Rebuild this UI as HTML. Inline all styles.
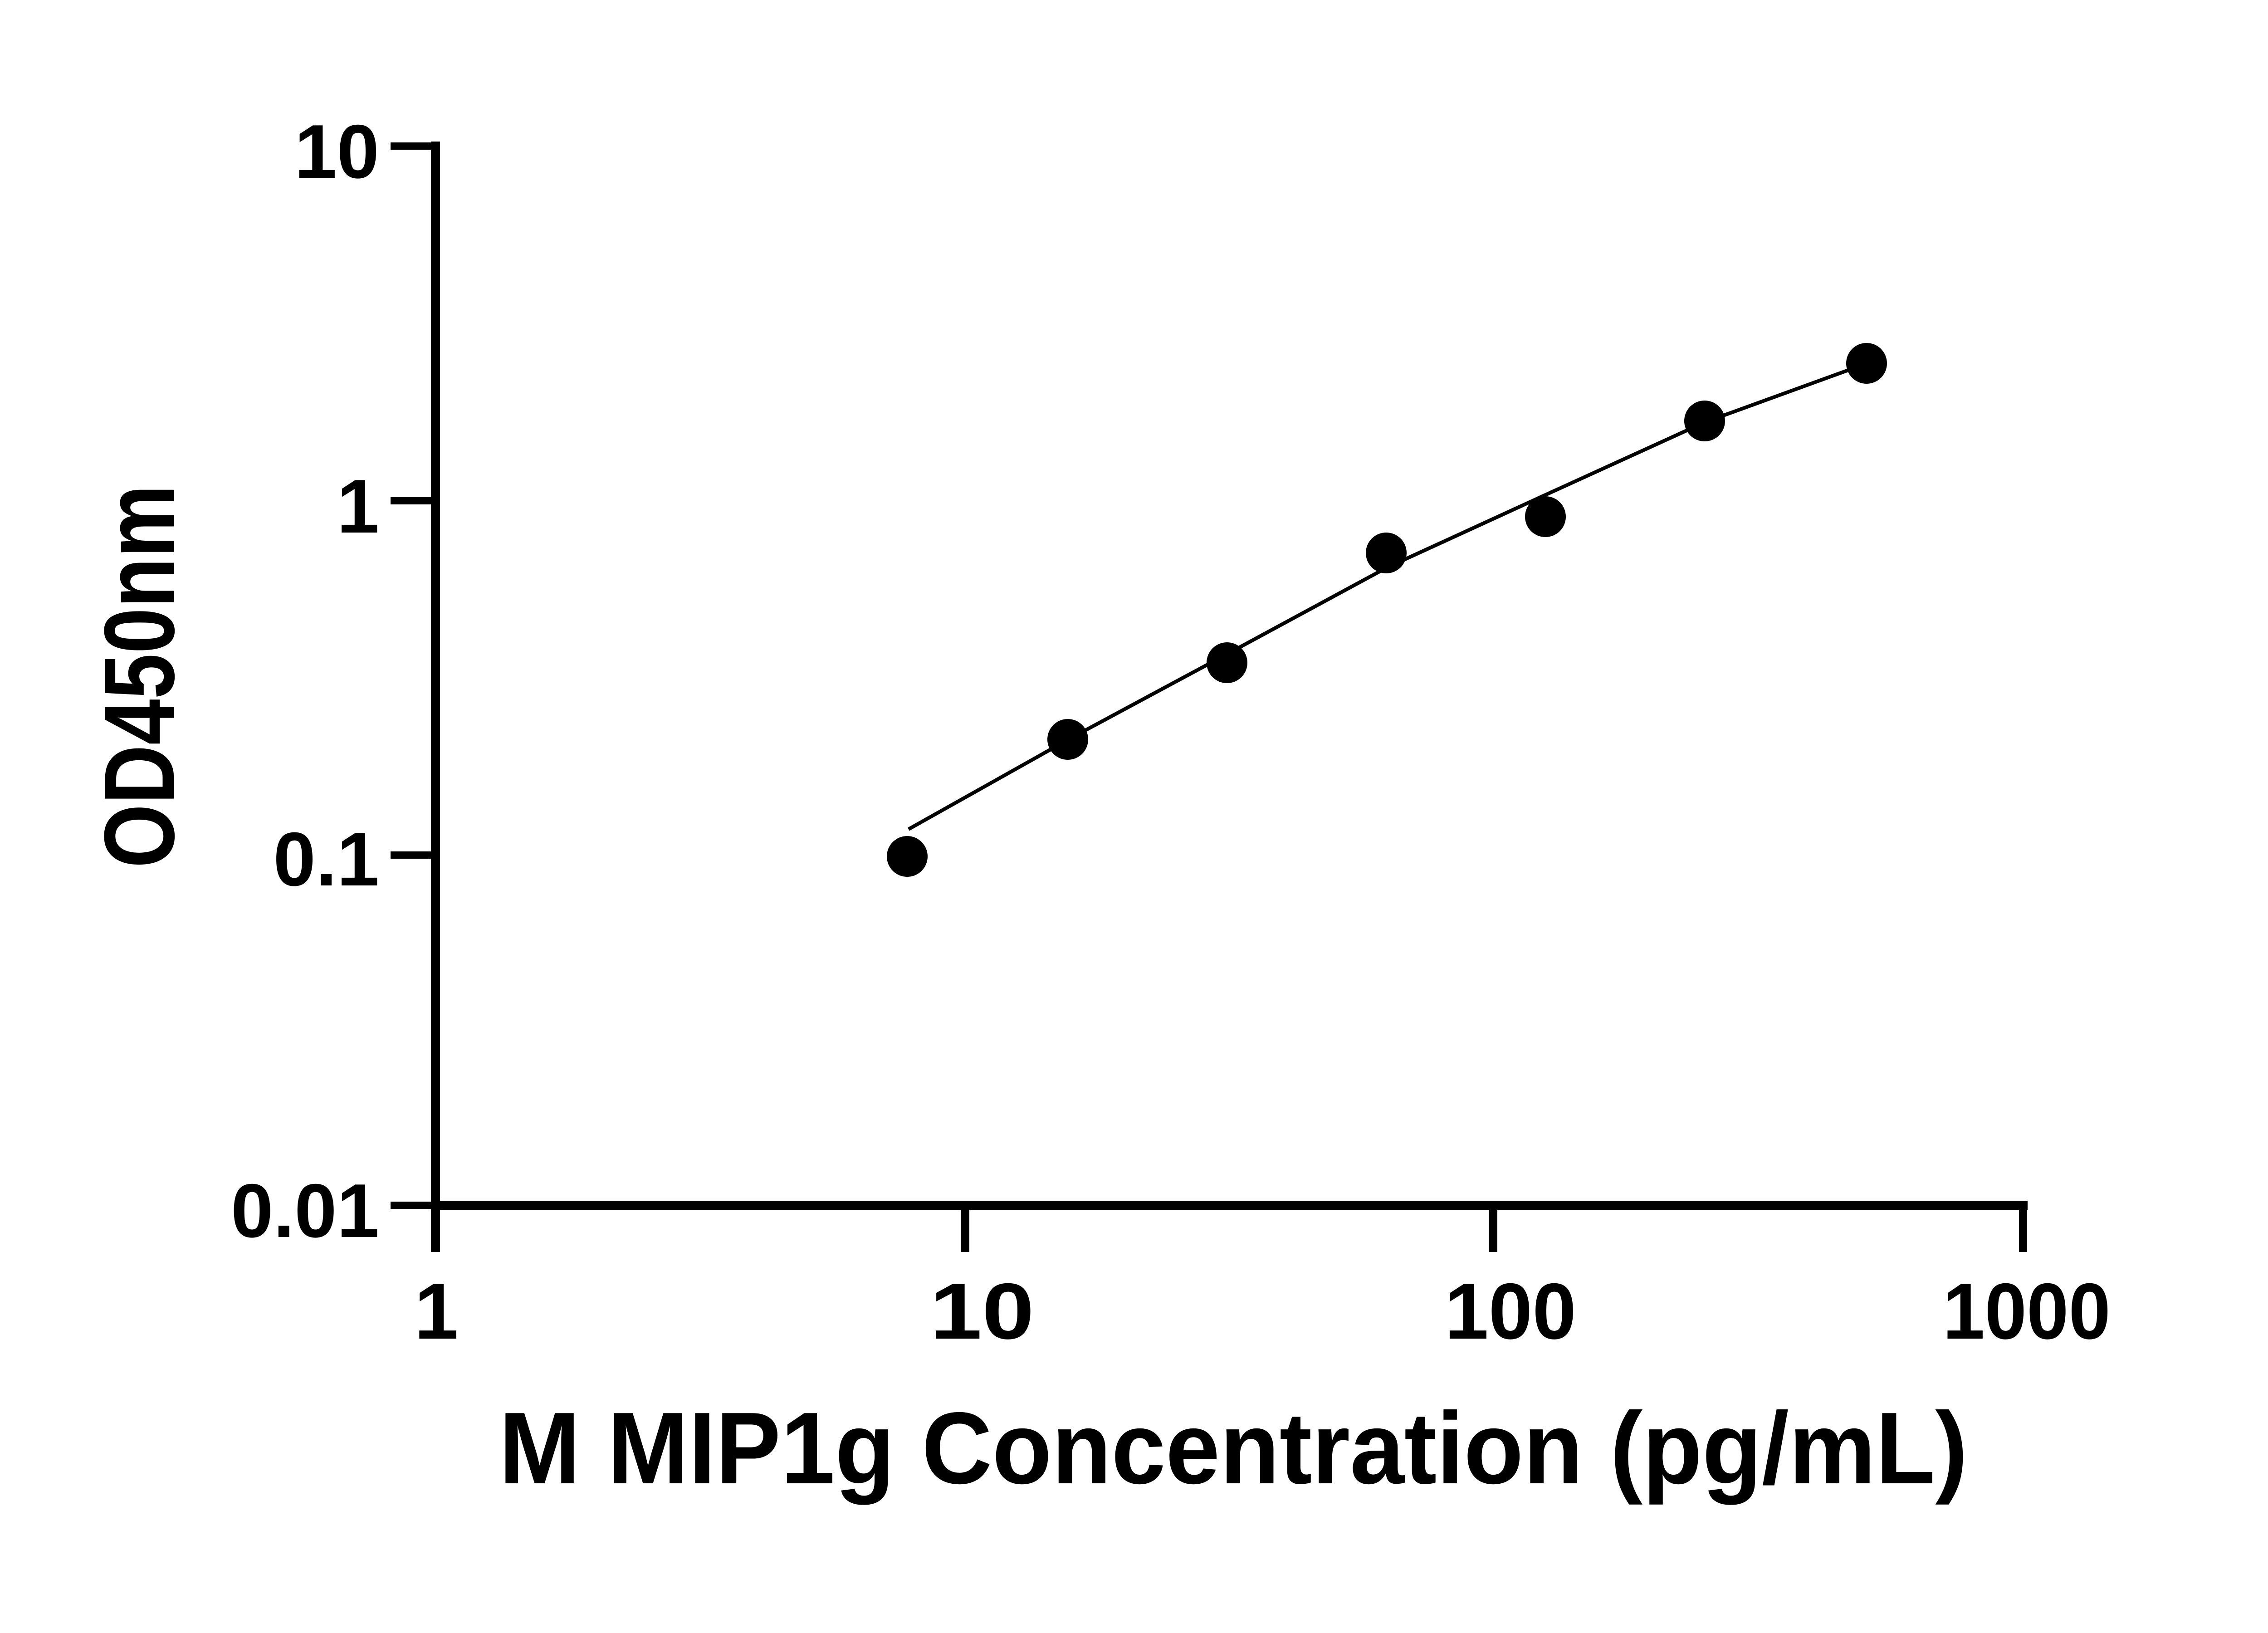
<!DOCTYPE html>
<html><head><meta charset="utf-8"><style>html,body{margin:0;padding:0;background:#fff}svg{display:block}</style></head>
<body>
<svg width="5142" height="3600" viewBox="0 0 5142 3600" xmlns="http://www.w3.org/2000/svg" font-family="'Liberation Sans', sans-serif" font-weight="bold">
<rect width="5142" height="3600" fill="#fff"/>
<g stroke="#000" fill="none">
<line x1="960" y1="312" x2="960" y2="2760" stroke-width="20"/>
<line x1="950" y1="2657" x2="4470" y2="2657" stroke-width="20"/>
<line x1="861" y1="322" x2="960" y2="322" stroke-width="16"/>
<line x1="861" y1="1104" x2="960" y2="1104" stroke-width="16"/>
<line x1="861" y1="1885" x2="960" y2="1885" stroke-width="16"/>
<line x1="861" y1="2657" x2="960" y2="2657" stroke-width="16"/>
<line x1="2128" y1="2657" x2="2128" y2="2760" stroke-width="18"/>
<line x1="3292" y1="2657" x2="3292" y2="2760" stroke-width="18"/>
<line x1="4460" y1="2647" x2="4460" y2="2760" stroke-width="18"/>
<polyline stroke-width="8" points="2003,1828 2361,1627 2705,1442 3056,1252 3407,1091 3758,931 4083,813 4115,801"/>
</g>
<g fill="#000">
<circle cx="2000" cy="1888" r="45"/>
<circle cx="2354" cy="1630" r="45"/>
<circle cx="2705" cy="1461" r="45"/>
<circle cx="3056" cy="1219" r="45"/>
<circle cx="3407" cy="1139" r="45"/>
<circle cx="3758" cy="928" r="45"/>
<circle cx="4115" cy="801" r="45"/>
</g>
<g font-size="168" text-anchor="end">
<text x="836" y="392">10</text>
<text x="836" y="1174">1</text>
<text x="836" y="1952">0.1</text>
<text x="836" y="2727">0.01</text>
</g>
<g font-size="175" text-anchor="middle">
<text x="962" y="2951">1</text>
<text x="2165" y="2951" textLength="230" lengthAdjust="spacingAndGlyphs">10</text>
<text x="3330" y="2951" textLength="290" lengthAdjust="spacingAndGlyphs">100</text>
<text x="4468" y="2951" textLength="370" lengthAdjust="spacingAndGlyphs">1000</text>
</g>
<text x="2719" y="3270" font-size="225" text-anchor="middle" textLength="3238" lengthAdjust="spacingAndGlyphs">M MIP1g Concentration (pg/mL)</text>
<text transform="translate(383,1491) rotate(-90)" font-size="220" text-anchor="middle" textLength="845" lengthAdjust="spacingAndGlyphs">OD450nm</text>
</svg>
</body></html>
